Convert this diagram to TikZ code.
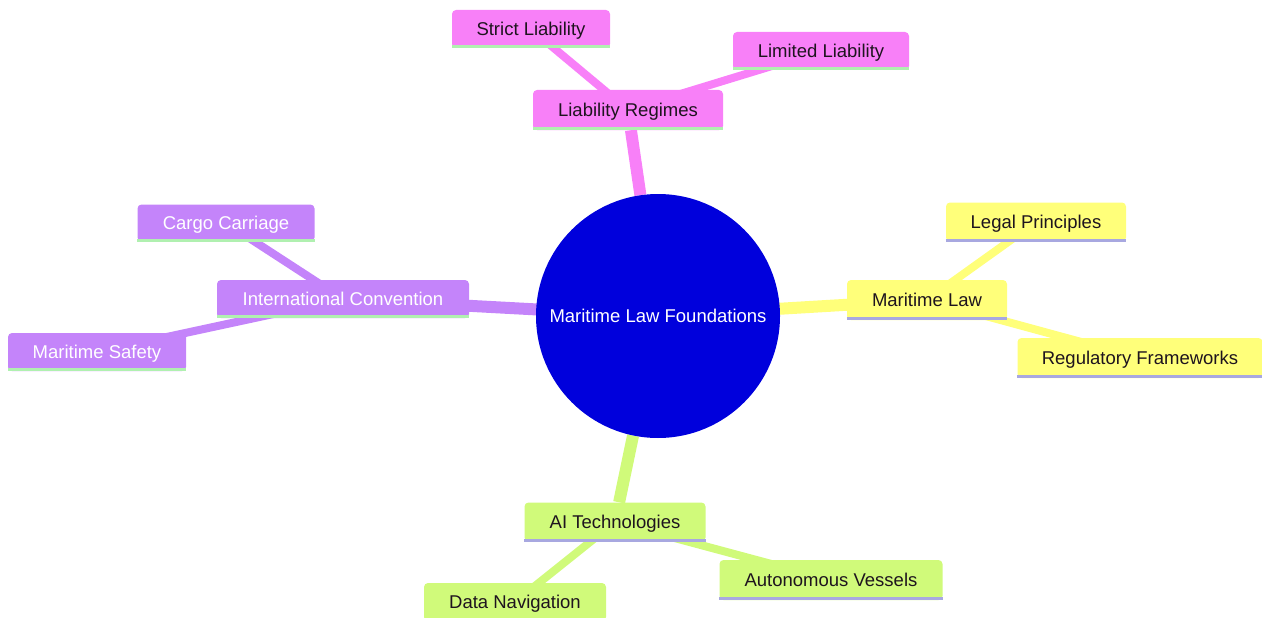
\documentclass[tikz,border=0pt]{standalone}
\usepackage{fontspec}
\setmainfont{Liberation Sans}
\usetikzlibrary{backgrounds}
\definecolor{rootblue}{RGB}{0,0,220}
\definecolor{pinkc}{RGB}{248,128,248}
\definecolor{yellowc}{RGB}{255,255,122}
\definecolor{purplec}{RGB}{196,132,250}
\definecolor{greenc}{RGB}{208,250,122}
\definecolor{mintline}{RGB}{176,240,176}
\definecolor{lavline}{RGB}{168,168,224}
\definecolor{darktext}{RGB}{30,20,30}
\tikzset{
  boxnode/.style={rectangle, rounded corners=4pt, inner sep=0pt, text depth=0pt, font=\fontsize{18.5}{22}\selectfont, text=darktext},
  pinkbox/.style={boxnode, fill=pinkc},
  yellowbox/.style={boxnode, fill=yellowc},
  purplebox/.style={boxnode, fill=purplec, text=white},
  greenbox/.style={boxnode, fill=greenc},
  mainedge/.style={line width=12pt},
  subedge/.style={line width=8pt},
  underline/.style={line width=3pt}
}
\begin{document}
\begin{tikzpicture}[x=1pt,y=-1pt]
\useasboundingbox (0,0) rectangle (1262,618);
% root
\node[circle, fill=rootblue, minimum size=244pt, inner sep=0pt, text=white, text depth=0pt, font=\fontsize{18.5}{22}\selectfont] (root) at (658,316) {Maritime Law Foundations};
% level 1
\node[pinkbox, minimum width=190pt, minimum height=40pt] (lr) at (628,110) {Liability Regimes};
\node[yellowbox, minimum width=160pt, minimum height=40pt] (ml) at (927,300) {Maritime Law};
\node[purplebox, minimum width=252pt, minimum height=38pt] (ic) at (343,299) {International Convention};
\node[greenbox, minimum width=181pt, minimum height=39pt] (ai) at (615,522) {AI Technologies};
% level 2
\node[pinkbox, minimum width=158pt, minimum height=38pt] (sl) at (531,29) {Strict Liability};
\node[pinkbox, minimum width=176pt, minimum height=38pt] (ll) at (821,51) {Limited Liability};
\node[yellowbox, minimum width=180pt, minimum height=39pt] (lp) at (1036,222) {Legal Principles};
\node[yellowbox, minimum width=245pt, minimum height=40pt] (rf) at (1140,358) {Regulatory Frameworks};
\node[purplebox, minimum width=177pt, minimum height=37pt] (cc) at (226,223) {Cargo Carriage};
\node[purplebox, minimum width=178pt, minimum height=38pt] (ms) at (97,352) {Maritime Safety};
\node[greenbox, minimum width=182pt, minimum height=38pt] (dn) at (515,602) {Data Navigation};
\node[greenbox, minimum width=223pt, minimum height=40pt] (av) at (831,580) {Autonomous Vessels};
% underlines
\foreach \n in {lr,ic,sl,ll,cc,ms}{
  \draw[underline, mintline] ([yshift=1.5pt]\n.south west) -- ([yshift=1.5pt]\n.south east);
}
\foreach \n in {ml,ai,lp,rf,dn,av}{
  \draw[underline, lavline] ([yshift=1.5pt]\n.south west) -- ([yshift=1.5pt]\n.south east);
}
\begin{scope}[on background layer]
  \draw[mainedge, pinkc] (root) -- (lr);
  \draw[mainedge, yellowc] (root.center) -- (ml.center);
  \draw[mainedge, purplec] (root.center) -- (ic.center);
  \draw[mainedge, greenc] (root) -- (ai);
  \draw[subedge, pinkc] (lr.center) -- (sl.center);
  \draw[subedge, pinkc] (lr.center) -- (ll.center);
  \draw[subedge, yellowc] (ml.center) -- (lp.center);
  \draw[subedge, yellowc] (ml.center) -- (rf.center);
  \draw[subedge, purplec] (ic.center) -- (cc.center);
  \draw[subedge, purplec] (ic.center) -- (ms.center);
  \draw[subedge, greenc] (ai.center) -- (dn.center);
  \draw[subedge, greenc] (ai.center) -- (av.center);
\end{scope}
\end{tikzpicture}
\end{document}
